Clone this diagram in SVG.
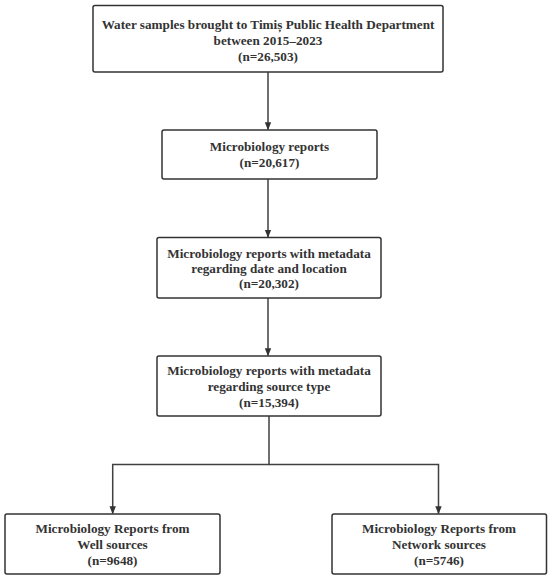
<svg xmlns="http://www.w3.org/2000/svg" width="550" height="578" viewBox="0 0 550 578">
<defs>
<style>
.box{fill:#ffffff;stroke:#333333;stroke-width:1.5}
.t{font-family:"Liberation Serif","Times New Roman",serif;font-weight:bold;font-size:13.2px;fill:#333333;text-anchor:middle}
.c{fill:none;stroke:#404040;stroke-width:1.5}
</style>
<marker id="ah" viewBox="0 0 10 10" refX="9" refY="5" markerWidth="8" markerHeight="8" markerUnits="userSpaceOnUse" orient="auto">
<path d="M0,1 L10,5 L0,9 Z" fill="#333333"/>
</marker>
</defs>
<rect width="550" height="578" fill="#ffffff"/>
<g id="connectors">
<line class="c" x1="268" y1="72" x2="268" y2="129.5" marker-end="url(#ah)"/>
<line class="c" x1="268" y1="179" x2="268" y2="237" marker-end="url(#ah)"/>
<line class="c" x1="268" y1="298" x2="268" y2="355.5" marker-end="url(#ah)"/>
<polyline class="c" points="269,416 269,464.5 112.7,464.5 112.7,513.5" marker-end="url(#ah)"/>
<polyline class="c" points="269,464.5 438.5,464.5 438.5,513.5" marker-end="url(#ah)"/>
</g>
<g id="n1">
<rect class="box" x="93" y="5.5" width="350" height="66.5" rx="2"/>
<text class="t" x="268" y="29">Water samples brought to Timiș Public Health Department</text>
<text class="t" x="268" y="45">between 2015–2023</text>
<text class="t" x="268" y="61">(n=26,503)</text>
</g>
<g id="n2">
<rect class="box" x="162" y="130" width="215" height="49" rx="2"/>
<text class="t" x="269.5" y="151">Microbiology reports</text>
<text class="t" x="269.5" y="167">(n=20,617)</text>
</g>
<g id="n3">
<rect class="box" x="157" y="237.5" width="224" height="60.5" rx="2"/>
<text class="t" x="269" y="258">Microbiology reports with metadata</text>
<text class="t" x="269" y="273">regarding date and location</text>
<text class="t" x="269" y="288">(n=20,302)</text>
</g>
<g id="n4">
<rect class="box" x="157" y="356" width="224" height="60" rx="2"/>
<text class="t" x="269" y="375">Microbiology reports with metadata</text>
<text class="t" x="269" y="391">regarding source type</text>
<text class="t" x="269" y="407">(n=15,394)</text>
</g>
<g id="n5">
<rect class="box" x="5" y="514" width="215" height="60" rx="2"/>
<text class="t" x="112.5" y="533">Microbiology Reports from</text>
<text class="t" x="112.5" y="549">Well sources</text>
<text class="t" x="112.5" y="565">(n=9648)</text>
</g>
<g id="n6">
<rect class="box" x="332" y="514" width="214.5" height="60" rx="2"/>
<text class="t" x="439" y="533">Microbiology Reports from</text>
<text class="t" x="439" y="549">Network sources</text>
<text class="t" x="439" y="565">(n=5746)</text>
</g>
</svg>
